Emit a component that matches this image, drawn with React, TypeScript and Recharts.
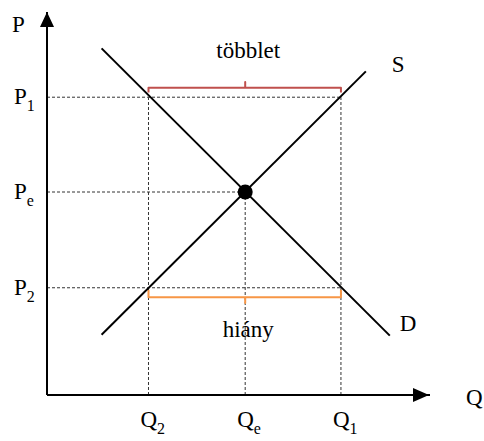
import React from 'react';
import { ComposedChart, Line, XAxis, YAxis, ReferenceLine, ReferenceDot } from 'recharts';

// quantities / prices on the axes
const Q2 = 10.6;
const QE = 20.7;
const Q1 = 30.7;
const P2 = 11.2;
const PE = 21.2;
const P1 = 31.1;

const Q_TICKS = [Q2, QE, Q1];
const Q_SUBS = ['2', 'e', '1'];
const P_TICKS = [P2, PE, P1];
const P_SUBS = ['2', 'e', '1'];

const demand = [
  { q: 5.7, p: 36.2 },
  { q: 35.8, p: 6.2 },
];
const supply = [
  { q: 5.7, p: 6.3 },
  { q: 33.3, p: 33.8 },
];

// többlet (surplus) bracket above P1, hiány (shortage) bracket below P2
const surplusBracket = [
  { q: Q2, p: 31.6 },
  { q: Q2, p: 32.1 },
  { q: QE, p: 32.1 },
  { q: QE, p: 32.7 },
  { q: QE, p: 32.1 },
  { q: Q1, p: 32.1 },
  { q: Q1, p: 31.6 },
];
const shortageBracket = [
  { q: Q2, p: 11.0 },
  { q: Q2, p: 10.2 },
  { q: QE, p: 10.2 },
  { q: QE, p: 9.6 },
  { q: QE, p: 10.2 },
  { q: Q1, p: 10.2 },
  { q: Q1, p: 11.0 },
];

const FONT = '"Liberation Serif", "Times New Roman", serif';
const GUIDE = '#333';

const QTick = (props: any) => {
  const { x, y, payload, index } = props;
  return (
    <text x={x - 8} y={y + 24} fontFamily={FONT} fontSize={23} fill="#000">
      <tspan>Q</tspan>
      <tspan fontSize={16} dy={7}>{Q_SUBS[index] ?? ''}</tspan>
    </text>
  );
};

const PTick = (props: any) => {
  const { x, y, index } = props;
  return (
    <text x={x - 25} y={y + 7} fontFamily={FONT} fontSize={23} fill="#000">
      <tspan>P</tspan>
      <tspan fontSize={16} dy={7}>{P_SUBS[index] ?? ''}</tspan>
    </text>
  );
};

const endLabel = (text: string, dx: number, dy: number) => (props: any) => {
  const { x, y, index } = props;
  if (index !== 1) return null;
  return (
    <text x={x + dx} y={y + dy} fontFamily={FONT} fontSize={23} fill="#000">
      {text}
    </text>
  );
};

const midLabel = (text: string, dy: number) => (props: any) => {
  const { x, y, index } = props;
  if (index !== 3) return null;
  return (
    <text x={x + 3} y={y + dy} textAnchor="middle" fontFamily={FONT} fontSize={23} fill="#000">
      {text}
    </text>
  );
};

const App: React.FC = () => {
  return (
    <div style={{ position: 'absolute', left: 0, top: 0, width: 484, height: 441, background: '#fff' }}>
      <ComposedChart width={484} height={441} margin={{ top: 12, right: 54, bottom: 16, left: 0 }}>
        <XAxis
          type="number"
          dataKey="q"
          domain={[0, 40]}
          ticks={Q_TICKS}
          interval={0}
          height={30}
          tickLine={false}
          axisLine={{ stroke: '#000', strokeWidth: 2 }}
          tick={<QTick />}
          allowDataOverflow
        />
        <YAxis
          type="number"
          dataKey="p"
          domain={[0, 40]}
          ticks={P_TICKS}
          interval={0}
          width={47}
          tickLine={false}
          axisLine={{ stroke: '#000', strokeWidth: 2 }}
          tick={<PTick />}
          allowDataOverflow
        />

        <ReferenceLine segment={[{ x: 0, y: P1 }, { x: Q1, y: P1 }]} stroke={GUIDE} strokeDasharray="3 2" />
        <ReferenceLine segment={[{ x: 0, y: PE }, { x: QE, y: PE }]} stroke={GUIDE} strokeDasharray="3 2" />
        <ReferenceLine segment={[{ x: 0, y: P2 }, { x: Q1, y: P2 }]} stroke={GUIDE} strokeDasharray="3 2" />
        <ReferenceLine segment={[{ x: Q2, y: 0 }, { x: Q2, y: P1 }]} stroke={GUIDE} strokeDasharray="3 2" />
        <ReferenceLine segment={[{ x: QE, y: 0 }, { x: QE, y: PE }]} stroke={GUIDE} strokeDasharray="3 2" />
        <ReferenceLine segment={[{ x: Q1, y: 0 }, { x: Q1, y: P1 }]} stroke={GUIDE} strokeDasharray="3 2" />

        <Line
          data={surplusBracket}
          dataKey="p"
          type="linear"
          stroke="#c0504d"
          strokeWidth={2}
          strokeLinejoin="round"
          dot={false}
          label={midLabel('többlet', -24)}
          isAnimationActive={false}
        />
        <Line
          data={shortageBracket}
          dataKey="p"
          type="linear"
          stroke="#f79646"
          strokeWidth={2}
          strokeLinejoin="round"
          dot={false}
          label={midLabel('hiány', 34)}
          isAnimationActive={false}
        />

        <Line
          data={demand}
          dataKey="p"
          type="linear"
          stroke="#000"
          strokeWidth={2}
          dot={false}
          label={endLabel('D', 10, -5)}
          isAnimationActive={false}
        />
        <Line
          data={supply}
          dataKey="p"
          type="linear"
          stroke="#000"
          strokeWidth={2}
          dot={false}
          label={endLabel('S', 26, 1)}
          isAnimationActive={false}
        />

        <ReferenceDot x={QE} y={PE} r={7.5} fill="#000" stroke="none" />

        <ReferenceDot
          x={0}
          y={40}
          shape={(p: any) => (
            <g>
              <polygon points={`${p.cx},${p.cy} ${p.cx - 7},${p.cy + 15} ${p.cx + 7},${p.cy + 15}`} fill="#000" />
              <text x={p.cx - 35} y={p.cy + 20} fontFamily={FONT} fontSize={23} fill="#000">P</text>
            </g>
          )}
        />
        <ReferenceDot
          x={40}
          y={0}
          shape={(p: any) => (
            <g>
              <polygon points={`${p.cx - 1},${p.cy} ${p.cx - 17},${p.cy - 7} ${p.cx - 17},${p.cy + 7}`} fill="#000" />
              <text x={p.cx + 36} y={p.cy + 10} fontFamily={FONT} fontSize={23} fill="#000">Q</text>
            </g>
          )}
        />
      </ComposedChart>
    </div>
  );
};

export default App;
